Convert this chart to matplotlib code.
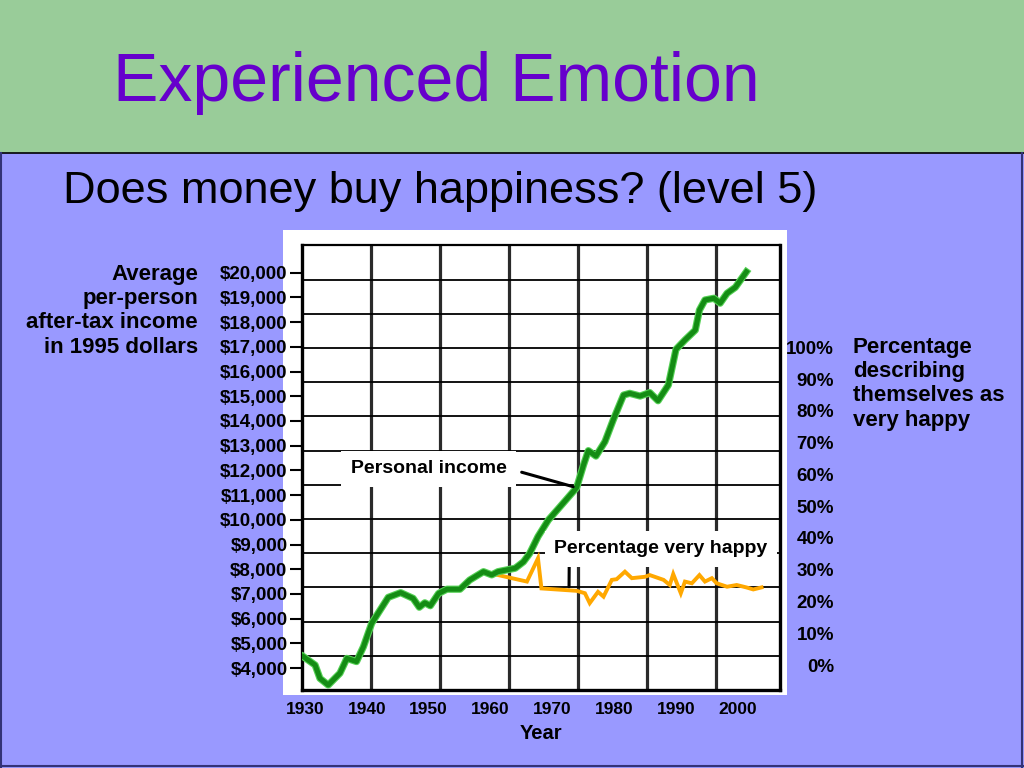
import matplotlib
matplotlib.use("Agg")
import matplotlib.pyplot as plt
import matplotlib.patheffects as pe
from matplotlib.patches import Rectangle
from matplotlib.lines import Line2D

plt.rcParams['font.family'] = ['Liberation Sans', 'DejaVu Sans']

# income per person (1995 dollars)
income_years = [1930.2, 1931.9, 1932.6, 1933.8, 1935.5, 1936.5, 1937.9, 1938.9, 1940.1,
                1942.5, 1944.3, 1946.1, 1947.0, 1947.8, 1948.6, 1949.8, 1951.0, 1952.9,
                1954.3, 1956.3, 1957.5, 1958.4, 1960.9, 1962.1, 1963.0, 1964.2, 1965.7,
                1967.4, 1969.8, 1970.8, 1971.5, 1972.6, 1973.9, 1975.1, 1976.6, 1977.5,
                1979.0, 1980.4, 1981.6, 1983.1, 1984.2, 1985.5, 1987.0, 1987.6, 1988.4,
                1989.7, 1990.6, 1991.6, 1992.8, 1994.4]
income = [4460, 4120, 3580, 3310, 3790, 4390, 4260, 4860, 5810,
          6860, 7050, 6820, 6460, 6640, 6520, 7020, 7190, 7190,
          7560, 7900, 7770, 7900, 8040, 8300, 8640, 9320, 9990,
          10530, 11300, 12220, 12800, 12580, 13160, 14040, 15050, 15120,
          15010, 15150, 14820, 15460, 16900, 17280, 17680, 18490, 18900,
          18970, 18770, 19170, 19410, 20040]

# percentage describing themselves as very happy
happy_years = [1958.0, 1962.6, 1964.2, 1964.7, 1969.8, 1971.0, 1971.7, 1972.9, 1973.7,
               1974.9, 1975.6, 1976.8, 1977.8, 1979.7, 1980.4, 1982.4, 1983.3, 1983.8,
               1984.9, 1985.5, 1986.5, 1987.6, 1988.4, 1989.4, 1990.1, 1991.6, 1993.0,
               1994.4, 1995.4, 1996.6]
happy_pct = [33.8, 31.7, 38.5, 29.7, 29.0, 28.3, 25.4, 28.7, 27.3,
             32.2, 32.4, 34.6, 32.7, 33.1, 33.6, 32.2, 30.7, 33.9,
             28.3, 31.7, 31.2, 33.6, 31.7, 32.7, 31.2, 30.2, 30.7,
             30.0, 29.4, 30.0]

income_ticks = list(range(4000, 20001, 1000))
pct_ticks = list(range(0, 101, 10))
year_ticks = list(range(1930, 2001, 10))

W, H = 1024, 768
fig = plt.figure(figsize=(W / 100, H / 100), dpi=100)
fig.patch.set_facecolor('#9999ff')

# slide header and frame
fig.add_artist(Rectangle((0, 1 - 153 / H), 1, 153 / H, transform=fig.transFigure,
                         facecolor='#99cc99', edgecolor='none', zorder=0))
fig.add_artist(Line2D([0, 1], [1 - 153 / H] * 2, transform=fig.transFigure,
                      color='black', lw=1.2))
for xs, ys in [([1 / W, 1 / W], [0, 1 - 153 / H]),
               ([1022 / W, 1022 / W], [0, 1 - 153 / H]),
               ([0, 1], [2 / H, 2 / H])]:
    fig.add_artist(Line2D(xs, ys, transform=fig.transFigure, color='#333377', lw=1.5))

fig.text(436 / W, 1 - 101 / H, "Experienced Emotion", color='#6600cc',
         fontsize=49, ha='center', va='baseline')
fig.text(63 / W, 1 - 203 / H, "Does money buy happiness? (level 5)", color='black',
         fontsize=32.5, ha='left', va='baseline')

# white panel behind the chart
fig.add_artist(Rectangle((283 / W, 1 - 695 / H), 504 / W, 465 / H, transform=fig.transFigure,
                         facecolor='white', edgecolor='none', zorder=0))

fig.text(198 / W, 1 - 264 / H, "Average\nper-person\nafter-tax income\nin 1995 dollars",
         fontsize=16, fontweight='bold', ha='right', va='top', linespacing=1.2)
fig.text(853 / W, 1 - 337 / H, "Percentage\ndescribing\nthemselves as\nvery happy",
         fontsize=16, fontweight='bold', ha='left', va='top', linespacing=1.2)

# main grid axes: x in years, y in percent
ax = fig.add_axes([302 / W, 1 - 690 / H, 478 / W, 445 / H])
ax.set_xlim(1930, 1930 + 478 / 6.9)
ax.set_ylim(0, 445 / 3.42)
ax.set_xticks(year_ticks[1:-1])
ax.set_yticks(list(range(10, 121, 10)))
ax.tick_params(length=0, labelbottom=False, labelleft=False)
ax.grid(axis='x', color='#2a2a2a', lw=2.3)
ax.grid(axis='y', color='black', lw=1.3)
ax.set_axisbelow(True)
for side, w in [('left', 2.4), ('right', 2.4), ('bottom', 2.4), ('top', 1.6)]:
    ax.spines[side].set_linewidth(w)
    ax.spines[side].set_color('black')

ax.plot(happy_years, happy_pct, color='#ffa800', lw=2.8, solid_joinstyle='miter', zorder=3)

# income axis on the left
ax_inc = ax.twinx()
ax_inc.set_ylim(4000 - 22 / 24.7 * 1000, 4000 + 423 / 24.7 * 1000)
ax_inc.yaxis.set_ticks_position('left')
ax_inc.set_yticks(income_ticks, [f"${v:,}" for v in income_ticks])
ax_inc.tick_params(axis='y', length=9, width=1.5, pad=1.5, labelsize=13.5)
for lbl in ax_inc.get_yticklabels():
    lbl.set_fontweight('bold')
for s in ax_inc.spines.values():
    s.set_visible(False)

ax_inc.plot(income_years, income, color='#148c14', lw=3.6, solid_joinstyle='round',
            path_effects=[pe.Stroke(linewidth=5.2, foreground='#55d055'), pe.Normal()],
            zorder=3)

bbox = dict(boxstyle='square,pad=0.5', fc='white', ec='none')
ax_inc.annotate("Personal income", xy=(1969.3, 11340), xycoords='data',
                xytext=(0.265, 0.497), textcoords='axes fraction',
                fontsize=14, fontweight='bold', ha='center', va='center', bbox=bbox,
                arrowprops=dict(arrowstyle='-', lw=2.2, color='black',
                                relpos=(1, 0.55), shrinkA=4, shrinkB=0), zorder=4)
ax_inc.annotate("Percentage very happy", xy=(1968.7, 30.2), xycoords=ax.transData,
                xytext=(0.751, 0.317), textcoords='axes fraction',
                fontsize=14, fontweight='bold', ha='center', va='center', bbox=bbox,
                arrowprops=dict(arrowstyle='-', lw=2.2, color='black',
                                relpos=(0.07, 0), shrinkA=0, shrinkB=0), zorder=4)

# percentage labels on the right
ax_pct = ax.twinx()
ax_pct.set_ylim(-(25 / 3.18), 100 + 102.3 / 3.18)
ax_pct.set_yticks(pct_ticks, [f"{v}%" for v in pct_ticks])
ax_pct.tick_params(axis='y', length=0, pad=39, labelsize=13.5)
for lbl in ax_pct.get_yticklabels():
    lbl.set_fontweight('bold')
    lbl.set_horizontalalignment('right')
for s in ax_pct.spines.values():
    s.set_visible(False)

# year labels at the bottom
ax_yr = ax.twiny()
ax_yr.set_xlim(1930 - 3 / 6.186, 1930 + 475 / 6.186)
ax_yr.xaxis.set_ticks_position('bottom')
ax_yr.xaxis.set_label_position('bottom')
ax_yr.set_xticks(year_ticks, [str(y) for y in year_ticks])
ax_yr.tick_params(axis='x', length=0, pad=9, labelsize=12.5)
for lbl in ax_yr.get_xticklabels():
    lbl.set_fontweight('bold')
ax_yr.set_xlabel("Year", fontsize=14.5, fontweight='bold', labelpad=5)
for s in ax_yr.spines.values():
    s.set_visible(False)

fig.savefig("out.png", dpi=100, facecolor=fig.get_facecolor())
